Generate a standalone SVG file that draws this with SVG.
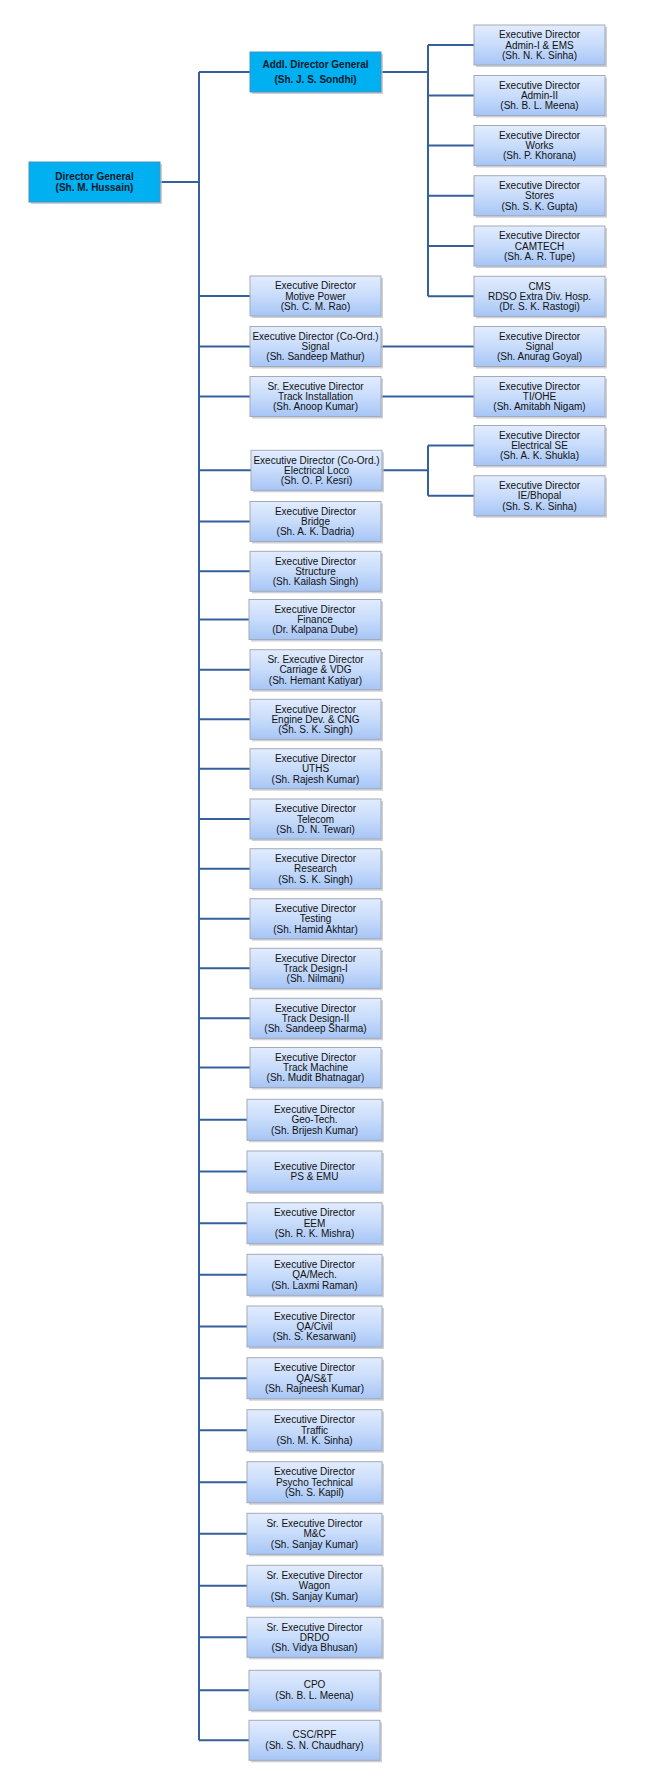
<svg xmlns="http://www.w3.org/2000/svg" width="660" height="1788" viewBox="0 0 660 1788">
<style>
.bg{fill:#ffffff}
.sh{fill:#b8bcc4;opacity:0.7}
.box{fill:url(#g);stroke:#a4abb8;stroke-width:1}
.top{fill:#00b0f0;stroke:#4a90b8;stroke-width:1}
.t{font-family:"Liberation Sans",Arial,sans-serif;font-size:10px;fill:#111;text-anchor:middle}
.tb{font-family:"Liberation Sans",Arial,sans-serif;font-size:10px;font-weight:bold;fill:#0a1a2a;text-anchor:middle}
.c{fill:none;stroke:#35609c;stroke-width:2}
</style>
<defs>
<linearGradient id="g" x1="0" y1="0" x2="0" y2="1">
<stop offset="0" stop-color="#e2ecfe"/>
<stop offset="0.5" stop-color="#c8dcfb"/>
<stop offset="1" stop-color="#a6c5f6"/>
</linearGradient>
</defs>
<rect class="bg" x="0" y="0" width="660" height="1788"/>
<g id="connectors">
<path class="c" d="M199 72 V1740.3 M160 182 H199 M199 72 H250 M381 72 H428 M428 45 V296.3 M428 45 H474 M428 95.5 H474 M428 145.5 H474 M428 195.7 H474 M428 246 H474 M428 296.3 H474 M199 296 H250 M199 346.5 H250 M381 346.5 H474 M199 396.5 H250 M381 396.5 H474 M199 470.3 H251 M382 470.3 H428 M428 445.5 V495.7 M428 445.5 H474 M428 495.7 H474 M199 521.5 H250 M199 571.3 H250 M199 619.5 H249 M199 669.7 H250 M199 719.3 H250 M199 768.7 H250 M199 819 H250 M199 868.7 H250 M199 918.7 H250 M199 968.3 H250 M199 1018.3 H250 M199 1067.5 H250 M199 1119.8 H247 M199 1171.5 H247 M199 1223.2 H247 M199 1274.8 H247 M199 1326.5 H247 M199 1378.2 H247 M199 1430.2 H247 M199 1482.2 H247 M199 1533.8 H247 M199 1585.8 H247 M199 1637.3 H247 M199 1690.3 H249 M199 1740.3 H249"/>
</g>
<g id="dg"><rect class="sh" x="31" y="164" width="131" height="40"/><rect class="top" x="29" y="162" width="131" height="40"/><text class="tb"><tspan x="94.5" y="180.3">Director General</tspan><tspan x="94.5" y="191">(Sh. M. Hussain)</tspan></text></g>
<g id="adg"><rect class="sh" x="252" y="54" width="131" height="40"/><rect class="top" x="250" y="52" width="131" height="40"/><text class="tb"><tspan x="315.5" y="68">Addl. Director General</tspan><tspan x="315.5" y="83">(Sh. J. S. Sondhi)</tspan></text></g>

<g id="ed-admin1"><rect class="sh" x="476" y="27" width="131" height="40"/><rect class="box" x="474" y="25" width="131" height="40"/><text class="t"><tspan x="539.5" y="38.2">Executive Director</tspan><tspan x="539.5" y="48.5">Admin-I &amp; EMS</tspan><tspan x="539.5" y="58.8">(Sh. N. K. Sinha)</tspan></text></g>
<g id="ed-admin2"><rect class="sh" x="476" y="77.5" width="131" height="40"/><rect class="box" x="474" y="75.5" width="131" height="40"/><text class="t"><tspan x="539.5" y="88.7">Executive Director</tspan><tspan x="539.5" y="99">Admin-II</tspan><tspan x="539.5" y="109.3">(Sh. B. L. Meena)</tspan></text></g>
<g id="ed-works"><rect class="sh" x="476" y="127.5" width="131" height="40"/><rect class="box" x="474" y="125.5" width="131" height="40"/><text class="t"><tspan x="539.5" y="138.7">Executive Director</tspan><tspan x="539.5" y="149">Works</tspan><tspan x="539.5" y="159.3">(Sh. P. Khorana)</tspan></text></g>
<g id="ed-stores"><rect class="sh" x="476" y="177.7" width="131" height="40"/><rect class="box" x="474" y="175.7" width="131" height="40"/><text class="t"><tspan x="539.5" y="188.9">Executive Director</tspan><tspan x="539.5" y="199.2">Stores</tspan><tspan x="539.5" y="209.5">(Sh. S. K. Gupta)</tspan></text></g>
<g id="ed-camtech"><rect class="sh" x="476" y="228" width="131" height="40"/><rect class="box" x="474" y="226" width="131" height="40"/><text class="t"><tspan x="539.5" y="239.2">Executive Director</tspan><tspan x="539.5" y="249.5">CAMTECH</tspan><tspan x="539.5" y="259.8">(Sh. A. R. Tupe)</tspan></text></g>
<g id="cms"><rect class="sh" x="476" y="278.3" width="131" height="40"/><rect class="box" x="474" y="276.3" width="131" height="40"/><text class="t"><tspan x="539.5" y="289.5">CMS</tspan><tspan x="539.5" y="299.8">RDSO Extra Div. Hosp.</tspan><tspan x="539.5" y="310.1">(Dr. S. K. Rastogi)</tspan></text></g>
<g id="ed-signal"><rect class="sh" x="476" y="328.5" width="131" height="40"/><rect class="box" x="474" y="326.5" width="131" height="40"/><text class="t"><tspan x="539.5" y="339.7">Executive Director</tspan><tspan x="539.5" y="350">Signal</tspan><tspan x="539.5" y="360.3">(Sh. Anurag Goyal)</tspan></text></g>
<g id="ed-tiohe"><rect class="sh" x="476" y="378.5" width="131" height="40"/><rect class="box" x="474" y="376.5" width="131" height="40"/><text class="t"><tspan x="539.5" y="389.7">Executive Director</tspan><tspan x="539.5" y="400">TI/OHE</tspan><tspan x="539.5" y="410.3">(Sh. Amitabh Nigam)</tspan></text></g>
<g id="ed-elecse"><rect class="sh" x="476" y="427.5" width="131" height="40"/><rect class="box" x="474" y="425.5" width="131" height="40"/><text class="t"><tspan x="539.5" y="438.7">Executive Director</tspan><tspan x="539.5" y="449">Electrical SE</tspan><tspan x="539.5" y="459.3">(Sh. A. K. Shukla)</tspan></text></g>
<g id="ed-iebhopal"><rect class="sh" x="476" y="477.7" width="131" height="40"/><rect class="box" x="474" y="475.7" width="131" height="40"/><text class="t"><tspan x="539.5" y="488.9">Executive Director</tspan><tspan x="539.5" y="499.2">IE/Bhopal</tspan><tspan x="539.5" y="509.5">(Sh. S. K. Sinha)</tspan></text></g>

<g id="ed-motive"><rect class="sh" x="252" y="278" width="131" height="40"/><rect class="box" x="250" y="276" width="131" height="40"/><text class="t"><tspan x="315.5" y="289.2">Executive Director</tspan><tspan x="315.5" y="299.5">Motive Power</tspan><tspan x="315.5" y="309.8">(Sh. C. M. Rao)</tspan></text></g>
<g id="ed-coord-signal"><rect class="sh" x="252" y="328.5" width="131" height="40"/><rect class="box" x="250" y="326.5" width="131" height="40"/><text class="t"><tspan x="315.5" y="339.7">Executive Director (Co-Ord.)</tspan><tspan x="315.5" y="350">Signal</tspan><tspan x="315.5" y="360.3">(Sh. Sandeep Mathur)</tspan></text></g>
<g id="sed-track-inst"><rect class="sh" x="252" y="378.5" width="131" height="40"/><rect class="box" x="250" y="376.5" width="131" height="40"/><text class="t"><tspan x="315.5" y="389.7">Sr. Executive Director</tspan><tspan x="315.5" y="400">Track Installation</tspan><tspan x="315.5" y="410.3">(Sh. Anoop Kumar)</tspan></text></g>
<g id="ed-coord-elec"><rect class="sh" x="253" y="452.3" width="131" height="40"/><rect class="box" x="251" y="450.3" width="131" height="40"/><text class="t"><tspan x="316.5" y="463.5">Executive Director (Co-Ord.)</tspan><tspan x="316.5" y="473.8">Electrical Loco</tspan><tspan x="316.5" y="484.1">(Sh. O. P. Kesri)</tspan></text></g>
<g id="ed-bridge"><rect class="sh" x="252" y="503.5" width="131" height="40"/><rect class="box" x="250" y="501.5" width="131" height="40"/><text class="t"><tspan x="315.5" y="514.7">Executive Director</tspan><tspan x="315.5" y="525">Bridge</tspan><tspan x="315.5" y="535.3">(Sh. A. K. Dadria)</tspan></text></g>
<g id="ed-structure"><rect class="sh" x="252" y="553.3" width="131" height="40"/><rect class="box" x="250" y="551.3" width="131" height="40"/><text class="t"><tspan x="315.5" y="564.5">Executive Director</tspan><tspan x="315.5" y="574.8">Structure</tspan><tspan x="315.5" y="585.1">(Sh. Kailash Singh)</tspan></text></g>
<g id="ed-finance"><rect class="sh" x="251" y="601.5" width="132" height="40"/><rect class="box" x="249" y="599.5" width="132" height="40"/><text class="t"><tspan x="315" y="612.7">Executive Director</tspan><tspan x="315" y="623">Finance</tspan><tspan x="315" y="633.3">(Dr. Kalpana Dube)</tspan></text></g>
<g id="sed-carriage"><rect class="sh" x="252" y="651.7" width="131" height="40"/><rect class="box" x="250" y="649.7" width="131" height="40"/><text class="t"><tspan x="315.5" y="662.9">Sr. Executive Director</tspan><tspan x="315.5" y="673.2">Carriage &amp; VDG</tspan><tspan x="315.5" y="683.5">(Sh. Hemant Katiyar)</tspan></text></g>
<g id="ed-engine"><rect class="sh" x="252" y="701.3" width="131" height="40"/><rect class="box" x="250" y="699.3" width="131" height="40"/><text class="t"><tspan x="315.5" y="712.5">Executive Director</tspan><tspan x="315.5" y="722.8">Engine Dev. &amp; CNG</tspan><tspan x="315.5" y="733.1">(Sh. S. K. Singh)</tspan></text></g>
<g id="ed-uths"><rect class="sh" x="252" y="750.7" width="131" height="40"/><rect class="box" x="250" y="748.7" width="131" height="40"/><text class="t"><tspan x="315.5" y="761.9">Executive Director</tspan><tspan x="315.5" y="772.2">UTHS</tspan><tspan x="315.5" y="782.5">(Sh. Rajesh Kumar)</tspan></text></g>
<g id="ed-telecom"><rect class="sh" x="252" y="801" width="131" height="40"/><rect class="box" x="250" y="799" width="131" height="40"/><text class="t"><tspan x="315.5" y="812.2">Executive Director</tspan><tspan x="315.5" y="822.5">Telecom</tspan><tspan x="315.5" y="832.8">(Sh. D. N. Tewari)</tspan></text></g>
<g id="ed-research"><rect class="sh" x="252" y="850.7" width="131" height="40"/><rect class="box" x="250" y="848.7" width="131" height="40"/><text class="t"><tspan x="315.5" y="861.9">Executive Director</tspan><tspan x="315.5" y="872.2">Research</tspan><tspan x="315.5" y="882.5">(Sh. S. K. Singh)</tspan></text></g>
<g id="ed-testing"><rect class="sh" x="252" y="900.7" width="131" height="40"/><rect class="box" x="250" y="898.7" width="131" height="40"/><text class="t"><tspan x="315.5" y="911.9">Executive Director</tspan><tspan x="315.5" y="922.2">Testing</tspan><tspan x="315.5" y="932.5">(Sh. Hamid Akhtar)</tspan></text></g>
<g id="ed-track-design1"><rect class="sh" x="252" y="950.3" width="131" height="40"/><rect class="box" x="250" y="948.3" width="131" height="40"/><text class="t"><tspan x="315.5" y="961.5">Executive Director</tspan><tspan x="315.5" y="971.8">Track Design-I</tspan><tspan x="315.5" y="982.1">(Sh. Nilmani)</tspan></text></g>
<g id="ed-track-design2"><rect class="sh" x="252" y="1000.3" width="131" height="40"/><rect class="box" x="250" y="998.3" width="131" height="40"/><text class="t"><tspan x="315.5" y="1011.5">Executive Director</tspan><tspan x="315.5" y="1021.8">Track Design-II</tspan><tspan x="315.5" y="1032.1">(Sh. Sandeep Sharma)</tspan></text></g>
<g id="ed-track-machine"><rect class="sh" x="252" y="1049.5" width="131" height="40"/><rect class="box" x="250" y="1047.5" width="131" height="40"/><text class="t"><tspan x="315.5" y="1060.7">Executive Director</tspan><tspan x="315.5" y="1071">Track Machine</tspan><tspan x="315.5" y="1081.3">(Sh. Mudit Bhatnagar)</tspan></text></g>

<g id="ed-geotech"><rect class="sh" x="249" y="1101.3" width="135" height="41"/><rect class="box" x="247" y="1099.3" width="135" height="41"/><text class="t"><tspan x="314.5" y="1113">Executive Director</tspan><tspan x="314.5" y="1123.3">Geo-Tech.</tspan><tspan x="314.5" y="1133.6">(Sh. Brijesh Kumar)</tspan></text></g>
<g id="ed-ps-emu"><rect class="sh" x="249" y="1153" width="135" height="41"/><rect class="box" x="247" y="1151" width="135" height="41"/><text class="t"><tspan x="314.5" y="1169.8">Executive Director</tspan><tspan x="314.5" y="1180.2">PS &amp; EMU</tspan></text></g>
<g id="ed-eem"><rect class="sh" x="249" y="1204.7" width="135" height="41"/><rect class="box" x="247" y="1202.7" width="135" height="41"/><text class="t"><tspan x="314.5" y="1216.4">Executive Director</tspan><tspan x="314.5" y="1226.7">EEM</tspan><tspan x="314.5" y="1237">(Sh. R. K. Mishra)</tspan></text></g>
<g id="ed-qa-mech"><rect class="sh" x="249" y="1256.3" width="135" height="41"/><rect class="box" x="247" y="1254.3" width="135" height="41"/><text class="t"><tspan x="314.5" y="1268">Executive Director</tspan><tspan x="314.5" y="1278.3">QA/Mech.</tspan><tspan x="314.5" y="1288.6">(Sh. Laxmi Raman)</tspan></text></g>
<g id="ed-qa-civil"><rect class="sh" x="249" y="1308" width="135" height="41"/><rect class="box" x="247" y="1306" width="135" height="41"/><text class="t"><tspan x="314.5" y="1319.7">Executive Director</tspan><tspan x="314.5" y="1330">QA/Civil</tspan><tspan x="314.5" y="1340.3">(Sh. S. Kesarwani)</tspan></text></g>
<g id="ed-qa-st"><rect class="sh" x="249" y="1359.7" width="135" height="41"/><rect class="box" x="247" y="1357.7" width="135" height="41"/><text class="t"><tspan x="314.5" y="1371.4">Executive Director</tspan><tspan x="314.5" y="1381.7">QA/S&amp;T</tspan><tspan x="314.5" y="1392">(Sh. Rajneesh Kumar)</tspan></text></g>
<g id="ed-traffic"><rect class="sh" x="249" y="1411.7" width="135" height="41"/><rect class="box" x="247" y="1409.7" width="135" height="41"/><text class="t"><tspan x="314.5" y="1423.4">Executive Director</tspan><tspan x="314.5" y="1433.7">Traffic</tspan><tspan x="314.5" y="1444">(Sh. M. K. Sinha)</tspan></text></g>
<g id="ed-psycho"><rect class="sh" x="249" y="1463.7" width="135" height="41"/><rect class="box" x="247" y="1461.7" width="135" height="41"/><text class="t"><tspan x="314.5" y="1475.4">Executive Director</tspan><tspan x="314.5" y="1485.7">Psycho Technical</tspan><tspan x="314.5" y="1496">(Sh. S. Kapil)</tspan></text></g>
<g id="sed-mc"><rect class="sh" x="249" y="1515.3" width="135" height="41"/><rect class="box" x="247" y="1513.3" width="135" height="41"/><text class="t"><tspan x="314.5" y="1527">Sr. Executive Director</tspan><tspan x="314.5" y="1537.3">M&amp;C</tspan><tspan x="314.5" y="1547.6">(Sh. Sanjay Kumar)</tspan></text></g>
<g id="sed-wagon"><rect class="sh" x="249" y="1567.3" width="135" height="41"/><rect class="box" x="247" y="1565.3" width="135" height="41"/><text class="t"><tspan x="314.5" y="1579">Sr. Executive Director</tspan><tspan x="314.5" y="1589.3">Wagon</tspan><tspan x="314.5" y="1599.6">(Sh. Sanjay Kumar)</tspan></text></g>
<g id="sed-drdo"><rect class="sh" x="249" y="1619.3" width="135" height="40"/><rect class="box" x="247" y="1617.3" width="135" height="40"/><text class="t"><tspan x="314.5" y="1630.5">Sr. Executive Director</tspan><tspan x="314.5" y="1640.8">DRDO</tspan><tspan x="314.5" y="1651.1">(Sh. Vidya Bhusan)</tspan></text></g>
<g id="cpo"><rect class="sh" x="251" y="1672.3" width="131" height="40"/><rect class="box" x="249" y="1670.3" width="131" height="40"/><text class="t"><tspan x="314.5" y="1688">CPO</tspan><tspan x="314.5" y="1698.6">(Sh. B. L. Meena)</tspan></text></g>
<g id="csc-rpf"><rect class="sh" x="251" y="1722.3" width="131" height="40"/><rect class="box" x="249" y="1720.3" width="131" height="40"/><text class="t"><tspan x="314.5" y="1738">CSC/RPF</tspan><tspan x="314.5" y="1748.6">(Sh. S. N. Chaudhary)</tspan></text></g>
</svg>
